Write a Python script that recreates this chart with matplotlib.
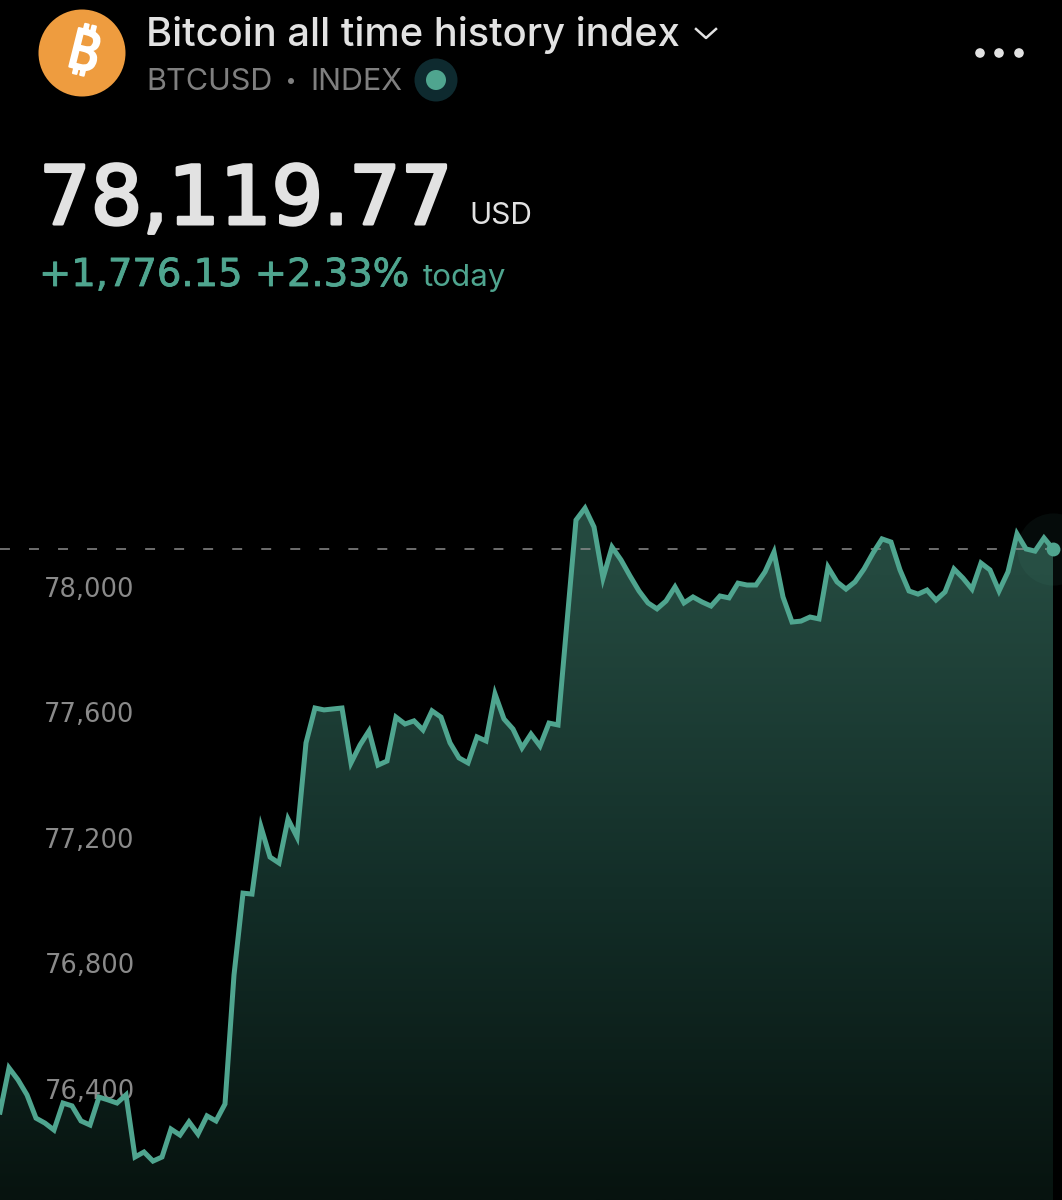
import numpy as np
import matplotlib
matplotlib.use("Agg")
import matplotlib.pyplot as plt
import matplotlib.patheffects as pe
from matplotlib.colors import LinearSegmentedColormap
from matplotlib.patches import Circle

# price, one sample per step
prices = [
    76325, 76466, 76428, 76380, 76306, 76290, 76268, 76354, 76345, 76297,
    76284, 76373, 76364, 76354, 76380, 76182, 76198, 76169, 76182, 76271,
    76252, 76294, 76255, 76313, 76297, 76351, 76762, 77023, 77020, 77234,
    77138, 77119, 77259, 77202, 77502, 77613, 77607, 77610, 77613, 77438,
    77495, 77540, 77431, 77444, 77584, 77562, 77572, 77543, 77604, 77584,
    77502, 77454, 77438, 77521, 77508, 77658, 77578, 77546, 77486, 77530,
    77492, 77565, 77559, 77887, 78212, 78250, 78190, 78027, 78126, 78085,
    78034, 77986, 77948, 77929, 77954, 77999, 77948, 77967, 77951, 77938,
    77970, 77964, 78011, 78005, 78005, 78047, 78110, 77967, 77887, 77890,
    77903, 77897, 78062, 78015, 77992, 78015, 78056, 78107, 78152, 78142,
    78053, 77986, 77976, 77989, 77957, 77983, 78056, 78027, 77992, 78075,
    78053, 77986, 78047, 78168, 78120, 78113, 78155, 78120,
]
y_ticks = [76400, 76800, 77200, 77600, 78000]
last_price = 78119.77

GREEN = "#4fa58f"
BG = "black"

fig = plt.figure(figsize=(10.62, 12), dpi=100, facecolor=BG)
plt.rcParams["font.family"] = ["Inter", "DejaVu Sans"]

# ── Chart ─────────────────────────────────────────────────────────────────
ax = fig.add_axes([0, 0, 1, 1], facecolor=BG)
xs = np.arange(len(prices))

area = ax.fill_between(xs, prices, 76045, color="none", lw=0)
cmap = LinearSegmentedColormap.from_list("fade", ["#07130f", "#132e28", "#24493f"])
img = ax.imshow(np.linspace(1, 0, 256).reshape(-1, 1), cmap=cmap, aspect="auto",
                extent=[0, len(prices) - 1, 76045, 78040], zorder=1, interpolation="bilinear")
img.set_clip_path(area.get_paths()[0], transform=ax.transData)
# above the top of the gradient the fill stays flat
ax.fill_between(xs, prices, 78040, where=np.array(prices) > 78040, interpolate=True,
                color="#24493f", lw=0, zorder=1)
ax.set_xlim(0, 118)
ax.set_ylim(76045, 79869.5)

ax.plot([0, len(prices) - 1], [last_price, last_price], color="#8c8c8c", lw=1.1,
        dashes=(6.5, 12.5), zorder=2)
ax.plot(xs, prices, color=GREEN, lw=3.6, solid_joinstyle="miter", zorder=3)
ax.scatter(xs[-1], prices[-1], s=2700, color=GREEN, alpha=0.07, lw=0, zorder=2)
ax.scatter(xs[-1], prices[-1], s=100, color=GREEN, lw=0, zorder=4)

ax.set_yticks(y_ticks)
ax.set_yticklabels([f"{t:,}" for t in y_ticks], family="DejaVu Sans")
ax.set_xticks([])
ax.tick_params(axis="y", length=0, pad=-97, labelsize=18.5, labelcolor="#8a8a8a")
for lab in ax.get_yticklabels():
    lab.set_zorder(5)
for s in ax.spines.values():
    s.set_visible(False)

# ── Header, in pixel coordinates ──────────────────────────────────────────
hd = fig.add_axes([0, 0, 1, 1], facecolor="none")
hd.set_xlim(0, 1062)
hd.set_ylim(1200, 0)
hd.axis("off")

hd.add_patch(Circle((82, 53), 43.5, color="#ee9c3f", lw=0))
hd.text(83, 55, "\u20bf", color="white", fontsize=40, fontweight="bold", rotation=-14,
        ha="center", va="center", family=["Noto Sans", "Roboto", "Open Sans", "Lato", "Inter"],
        path_effects=[pe.withStroke(linewidth=1.5, foreground="white")])

hd.text(146, 46, "Bitcoin all time history index", color="#e2e2e2", fontsize=28.7,
        fontweight=500, va="baseline")
hd.plot([696, 706, 716], [29, 38, 29], color="#e2e2e2", lw=1.8)
hd.text(146, 90, "BTCUSD", color="#7f7f7f", fontsize=22, va="baseline")
hd.add_patch(Circle((291, 81), 3, color="#7f7f7f", lw=0))
hd.text(310, 90, "INDEX", color="#7f7f7f", fontsize=22, va="baseline")
hd.add_patch(Circle((436, 80), 21.5, color="#0e2a2f", lw=0))
hd.add_patch(Circle((436, 80), 10, color=GREEN, lw=0))

for dx in [980, 999, 1019]:
    hd.add_patch(Circle((dx, 53), 4.8, color="#e2e2e2", lw=0))

# DejaVu digits have the wide spacing of the original, a stroke gives the weight
hd.text(39, 224, "78,119.77", color="#e2e2e2", fontsize=58.5, family="DejaVu Sans", va="baseline",
        path_effects=[pe.withStroke(linewidth=2.2, foreground="#e2e2e2")])
hd.text(469, 224, "USD", color="#e2e2e2", fontsize=21.5, va="baseline")
hd.text(39, 286, "+1,776.15 +2.33%", color=GREEN, fontsize=27.7, family="DejaVu Sans", va="baseline",
        path_effects=[pe.withStroke(linewidth=0.6, foreground=GREEN)])
hd.text(423, 286, "today", color=GREEN, fontsize=22.5, va="baseline")

fig.savefig("out.png", dpi=100, facecolor=BG)
